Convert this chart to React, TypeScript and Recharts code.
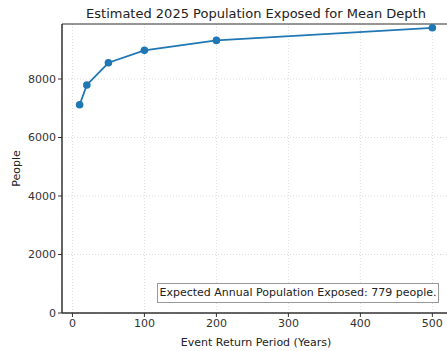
import {
  LineChart,
  Line,
  XAxis,
  YAxis,
  CartesianGrid,
  ReferenceArea,
} from 'recharts';

const returnPeriods = [10, 20, 50, 100, 200, 500];
const peopleExposed = [7120, 7795, 8555, 8980, 9320, 9750];
const xTicks = [0, 100, 200, 300, 400, 500];
const yTicks = [0, 2000, 4000, 6000, 8000];
const title = 'Estimated 2025 Population Exposed for Mean Depth';
const annotation = 'Expected Annual Population Exposed: 779 people.';

const chartData = returnPeriods.map((rp, i) => ({ rp, people: peopleExposed[i] }));

const FONT = '"DejaVu Sans", sans-serif';
const BLUE = '#1f77b4';
const X_DOMAIN: [number, number] = [-14.5, 524.5];
const Y_DOMAIN: [number, number] = [0, 9880];

export default function App() {
  return (
    <div
      style={{
        position: 'fixed',
        left: 0,
        top: 0,
        width: 447,
        height: 351,
        overflow: 'hidden',
        background: '#fff',
        fontFamily: FONT,
      }}
    >
      <LineChart
        width={460}
        height={351}
        data={chartData}
        margin={{ top: 24, right: 10, left: 0, bottom: 0 }}
      >
        <text x={256} y={18} textAnchor="middle" fontSize={13} fill="#222" fontFamily={FONT}>
          {title}
        </text>
        <CartesianGrid stroke="#dcdcdc" strokeDasharray="1 2" />
        <XAxis
          dataKey="rp"
          type="number"
          domain={X_DOMAIN}
          ticks={xTicks}
          allowDataOverflow
          height={38}
          tick={{ fill: '#333', fontSize: 11, fontFamily: FONT }}
          tickSize={4}
          tickLine={{ stroke: '#333' }}
          axisLine={{ stroke: '#333', strokeWidth: 1 }}
          label={{
            value: 'Event Return Period (Years)',
            position: 'insideBottom',
            offset: 5,
            fill: '#222',
            fontSize: 11,
            fontFamily: FONT,
          }}
        />
        <YAxis
          type="number"
          domain={Y_DOMAIN}
          ticks={yTicks}
          allowDataOverflow
          width={62}
          tick={{ fill: '#333', fontSize: 11, fontFamily: FONT }}
          tickSize={4}
          tickLine={{ stroke: '#333' }}
          axisLine={{ stroke: '#333', strokeWidth: 1 }}
          label={{
            value: 'People',
            angle: -90,
            position: 'insideLeft',
            offset: 16,
            fill: '#222',
            fontSize: 11,
            fontFamily: FONT,
            style: { textAnchor: 'middle' },
          }}
        />
        <ReferenceArea
          x1={X_DOMAIN[0]}
          x2={X_DOMAIN[1]}
          y1={Y_DOMAIN[0]}
          y2={Y_DOMAIN[1]}
          fill="none"
          stroke="#333"
          strokeWidth={1}
          ifOverflow="visible"
        />
        <Line
          dataKey="people"
          type="linear"
          stroke={BLUE}
          strokeWidth={1.8}
          dot={{ r: 3.8, fill: BLUE, stroke: BLUE, strokeWidth: 0 }}
          activeDot={false}
          isAnimationActive={false}
        />
      </LineChart>
      <div
        style={{
          position: 'absolute',
          left: 157,
          top: 283,
          width: 282,
          height: 20,
          boxSizing: 'border-box',
          border: '1px solid #999',
          background: '#fff',
          fontSize: 11,
          color: '#222',
          lineHeight: '18px',
          textAlign: 'center',
          whiteSpace: 'nowrap',
        }}
      >
        {annotation}
      </div>
    </div>
  );
}
